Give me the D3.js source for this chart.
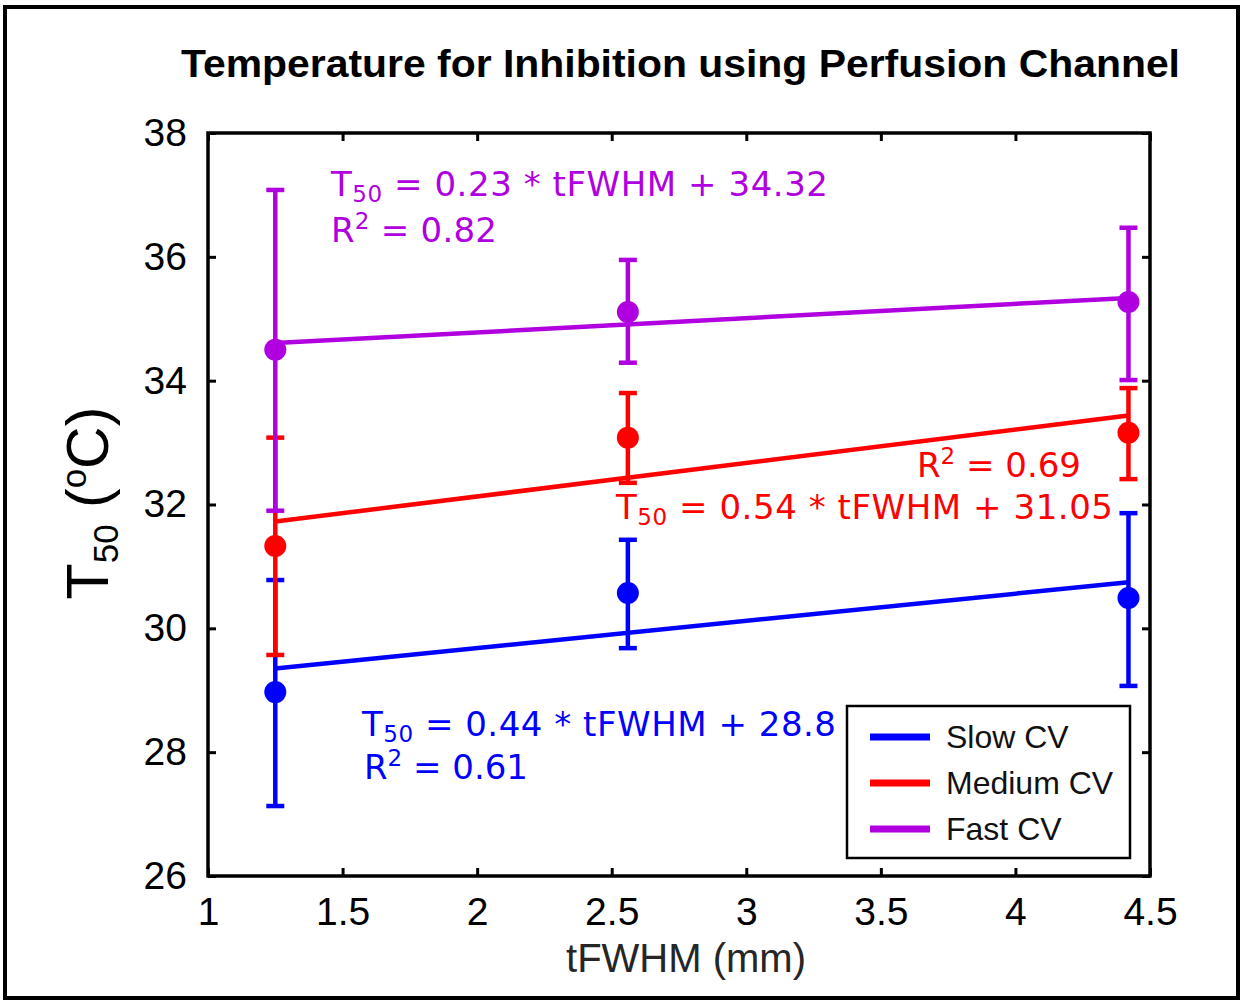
<!DOCTYPE html>
<html>
<head>
<meta charset="utf-8">
<script src="https://cdn.jsdelivr.net/npm/d3@7"></script>
<style>
  body { margin: 0; background: #fff; }
</style>
</head>
<body>
<div id="chart"></div>
<script>
// data
var tfwhm = [1.25, 2.56, 4.42];
var seriesNames = ["Slow CV", "Medium CV", "Fast CV"];
var seriesColors = ["#0000ff", "#ff0000", "#b000e0"];
var slowMean = [28.97, 30.57, 30.49];
var slowLow = [27.13, 29.68, 29.07];
var slowHigh = [30.78, 31.43, 31.86];
var mediumMean = [31.33, 33.08, 33.16];
var mediumLow = [29.57, 32.35, 32.41];
var mediumHigh = [33.08, 33.80, 33.88];
var fastMean = [34.50, 35.11, 35.27];
var fastLow = [31.90, 34.29, 34.01];
var fastHigh = [37.08, 35.95, 36.47];
var fitSlope = [0.44, 0.54, 0.23];
var fitIntercept = [28.8, 31.05, 34.32];
var fitR2 = ["0.61", "0.69", "0.82"];
var xTicks = [1, 1.5, 2, 2.5, 3, 3.5, 4, 4.5];
var yTicks = [26, 28, 30, 32, 34, 36, 38];

var W = 1243, H = 1001;
var margin = { top: 133, right: 93, bottom: 125, left: 208 };
var width = W - margin.left - margin.right;
var height = H - margin.top - margin.bottom;

var svg = d3.select("#chart").append("svg")
    .attr("width", W)
    .attr("height", H);

// outer frame
svg.append("rect")
    .attr("x", 5).attr("y", 7)
    .attr("width", 1233).attr("height", 991)
    .attr("fill", "none").attr("stroke", "#000").attr("stroke-width", 4);

svg.append("text")
    .attr("x", 181).attr("y", 77)
    .attr("textLength", 999).attr("lengthAdjust", "spacingAndGlyphs")
    .style("font-family", "'Liberation Sans', Arial, sans-serif")
    .style("font-weight", "bold").style("font-size", "38px")
    .text("Temperature for Inhibition using Perfusion Channel");

var g = svg.append("g")
    .attr("transform", "translate(" + margin.left + "," + margin.top + ")");

var x = d3.scaleLinear().domain([1, 4.5]).range([0, width]);
var y = d3.scaleLinear().domain([26, 38]).range([height, 0]);

function styleAxis(sel, showLabels) {
    sel.select(".domain").remove();
    sel.selectAll(".tick line").attr("stroke", "#000").attr("stroke-width", 3);
    sel.selectAll(".tick text")
        .style("font-family", "'Liberation Sans', Arial, sans-serif")
        .style("font-size", "39px").attr("fill", "#000");
    if (!showLabels) sel.selectAll(".tick text").remove();
}

g.append("g").attr("transform", "translate(0," + height + ")")
    .call(d3.axisBottom(x).tickValues(xTicks).tickFormat(d3.format("")).tickSizeInner(-8).tickSizeOuter(0).tickPadding(21))
    .call(styleAxis, true);
g.append("g")
    .call(d3.axisTop(x).tickValues(xTicks).tickSizeInner(-8).tickSizeOuter(0))
    .call(styleAxis, false);
g.append("g")
    .call(d3.axisLeft(y).tickValues(yTicks).tickSizeInner(-8).tickSizeOuter(0).tickPadding(21))
    .call(styleAxis, true);
g.append("g").attr("transform", "translate(" + width + ",0)")
    .call(d3.axisRight(y).tickValues(yTicks).tickSizeInner(-8).tickSizeOuter(0))
    .call(styleAxis, false);

// plot box
g.append("rect")
    .attr("width", width).attr("height", height)
    .attr("fill", "none").attr("stroke", "#000").attr("stroke-width", 3.5);

// axis labels
svg.append("text")
    .attr("x", 686).attr("y", 972)
    .attr("text-anchor", "middle")
    .style("font-family", "'Liberation Sans', Arial, sans-serif")
    .style("font-size", "40px").attr("fill", "#262626")
    .text("tFWHM (mm)");

var yl = svg.append("text")
    .attr("transform", "translate(108,503) rotate(-90)")
    .attr("text-anchor", "middle")
    .style("font-family", "'Liberation Sans', Arial, sans-serif")
    .attr("fill", "#000");
yl.append("tspan").style("font-size", "59px").text("T");
yl.append("tspan").style("font-size", "35px").attr("dy", 10).text("50");
yl.append("tspan").style("font-size", "59px").attr("dy", -10).text(" (");
yl.append("tspan").style("font-size", "35px").attr("dy", -22).text("o");
yl.append("tspan").style("font-size", "59px").attr("dy", 22).text("C)");

var series = [
    { mean: slowMean, low: slowLow, high: slowHigh },
    { mean: mediumMean, low: mediumLow, high: mediumHigh },
    { mean: fastMean, low: fastLow, high: fastHigh }
].map((s, i) => ({
    name: seriesNames[i], color: seriesColors[i],
    slope: fitSlope[i], intercept: fitIntercept[i],
    points: tfwhm.map((t, j) => ({ x: t, m: s.mean[j], lo: s.low[j], hi: s.high[j] }))
}));

var capW = 9, lw = 4.5;
series.forEach(s => {
    var sg = g.append("g");
    var eb = sg.selectAll(".eb").data(s.points).enter().append("g");
    eb.append("line")
        .attr("x1", d => x(d.x)).attr("x2", d => x(d.x))
        .attr("y1", d => y(d.lo)).attr("y2", d => y(d.hi))
        .attr("stroke", s.color).attr("stroke-width", lw);
    eb.append("line")
        .attr("x1", d => x(d.x) - capW).attr("x2", d => x(d.x) + capW)
        .attr("y1", d => y(d.lo)).attr("y2", d => y(d.lo))
        .attr("stroke", s.color).attr("stroke-width", lw);
    eb.append("line")
        .attr("x1", d => x(d.x) - capW).attr("x2", d => x(d.x) + capW)
        .attr("y1", d => y(d.hi)).attr("y2", d => y(d.hi))
        .attr("stroke", s.color).attr("stroke-width", lw);

    var x0 = tfwhm[0], x1 = tfwhm[tfwhm.length - 1];
    sg.append("line")
        .attr("x1", x(x0)).attr("y1", y(s.slope * x0 + s.intercept))
        .attr("x2", x(x1)).attr("y2", y(s.slope * x1 + s.intercept))
        .attr("stroke", s.color).attr("stroke-width", lw);

    sg.selectAll("circle").data(s.points).enter().append("circle")
        .attr("cx", d => x(d.x)).attr("cy", d => y(d.m))
        .attr("r", 11).attr("fill", s.color);
});

// fit equations
var eqFont = "'DejaVu Sans', Verdana, sans-serif";
function eqText(px, py, i, len) {
    var t = svg.append("text").attr("x", px).attr("y", py)
        .attr("textLength", len)
        .style("font-family", eqFont).style("font-size", "34px").attr("fill", seriesColors[i]);
    t.append("tspan").text("T");
    t.append("tspan").style("font-size", "23px").attr("dy", 6).text("50");
    t.append("tspan").attr("dy", -6).text(" = " + fitSlope[i].toFixed(2) + " * tFWHM + " + fitIntercept[i]);
}
function r2Text(px, py, i, len) {
    var t = svg.append("text").attr("x", px).attr("y", py)
        .attr("textLength", len)
        .style("font-family", eqFont).style("font-size", "34px").attr("fill", seriesColors[i]);
    t.append("tspan").text("R");
    t.append("tspan").style("font-size", "23px").attr("dy", -13).text("2");
    t.append("tspan").attr("dy", 13).text(" = " + fitR2[i]);
}
eqText(331, 196, 2, 497); r2Text(331, 242, 2, 166);
r2Text(917, 477, 1, 164); eqText(616, 519, 1, 497);
eqText(362, 736, 0, 474); r2Text(364, 779, 0, 164);

// legend
var lg = svg.append("g");
lg.append("rect")
    .attr("x", 847).attr("y", 706).attr("width", 283).attr("height", 152)
    .attr("fill", "#fff").attr("stroke", "#000").attr("stroke-width", 2.5);
series.forEach((s, i) => {
    var yy = 737 + i * 46;
    lg.append("line").attr("x1", 870).attr("x2", 930).attr("y1", yy).attr("y2", yy)
        .attr("stroke", s.color).attr("stroke-width", 7);
    lg.append("text").attr("x", 946).attr("y", yy + 11)
        .style("font-family", "'Liberation Sans', Arial, sans-serif")
        .style("font-size", "32px").attr("fill", "#111")
        .text(s.name);
});
</script>
</body>
</html>
